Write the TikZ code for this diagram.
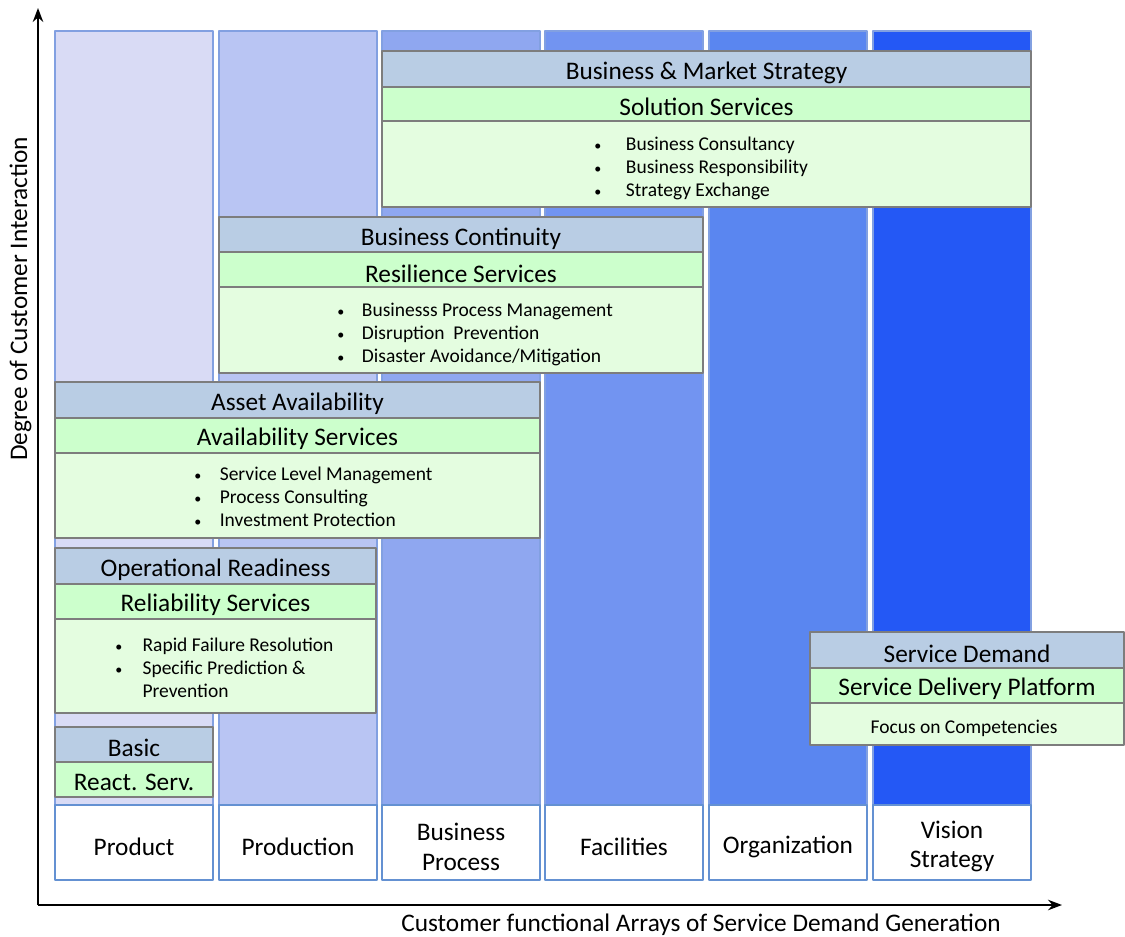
\documentclass[tikz,border=0pt]{standalone}
\usepackage{fontspec}
\setmainfont{Carlito}
\usetikzlibrary{arrows.meta}
\definecolor{colA}{RGB}{217,219,245}
\definecolor{colB}{RGB}{185,197,243}
\definecolor{colC}{RGB}{143,167,240}
\definecolor{colD}{RGB}{114,148,241}
\definecolor{colE}{RGB}{90,134,240}
\definecolor{colF}{RGB}{36,88,245}
\definecolor{colbd}{RGB}{130,160,225}
\definecolor{labbd}{RGB}{100,145,210}
\definecolor{hdfill}{RGB}{185,205,228}
\definecolor{ttlfill}{RGB}{204,255,204}
\definecolor{bdyfill}{RGB}{228,253,224}
\definecolor{boxbd}{RGB}{125,125,125}
\newcommand{\bul}{{\fontsize{8}{8}\selectfont\textbullet}}
\begin{document}
\begin{tikzpicture}[x=0.02cm,y=-0.02cm,>=Stealth,line join=round,
	font=\fontsize{14.4}{17}\selectfont,
	col/.style={draw=colbd,line width=0.6pt},
	lab/.style={draw=labbd,fill=white,line width=1.2pt},
	hd/.style={draw=boxbd,fill=hdfill,line width=0.6pt},
	ttl/.style={draw=boxbd,fill=ttlfill,line width=0.6pt},
	bdy/.style={draw=boxbd,fill=bdyfill,line width=0.6pt},
	items/.style={anchor=west,inner sep=0pt,font=\fontsize{11.1}{13.1}\selectfont}]
	\useasboundingbox (0,0) rectangle (1125,936);
	% columns and their labels
	\foreach \xl/\c/\n [count=\i] in {55/colA/Product, 219/colB/Production,
		382/colC/{Business\\Process}, 545/colD/Facilities,
		709/colE/Organization, 873/colF/{Vision\\Strategy}}{
		\draw[col,fill=\c] (\xl,31) rectangle (\xl+158,805);
		\draw[lab] (\xl,805) rectangle (\xl+158,880);
		\node[align=center] (c\i) at (\xl+79,846.5) {\n};
	}
	% axes
	\coordinate (O) at (38,905);
	\coordinate (ytop) at (38,8);
	\coordinate (xend) at (1062,905);
	\draw[->,line width=1.1pt] (O)--(ytop);
	\draw[->,line width=1.1pt] (O)--(xend);
	\node[rotate=90] (ylab) at (20.5,299) {Degree of Customer Interaction};
	\node (xlab) at (701,924.5) {Customer functional Arrays of Service Demand Generation};
	% Business & Market Strategy
	\draw[hd] (382,51) rectangle (1031,87);
	\node (bmsH) at (706.5,72.5) {Business \& Market Strategy};
	\draw[ttl] (382,87) rectangle (1031,121);
	\node (bmsT) at (706.5,107) {Solution Services};
	\draw[bdy] (382,121) rectangle (1031,207);
	\node[items] (bmsB) at (594,168.5) {\begin{tabular}{@{}p{18pt}@{}l@{}}
		\bul & Business Consultancy\\
		\bul & Business Responsibility\\
		\bul & Strategy Exchange\end{tabular}};
	% Business Continuity
	\draw[hd] (219,217) rectangle (703,252);
	\node (bcH) at (461,238.5) {Business Continuity};
	\draw[ttl] (219,252) rectangle (703,287);
	\node (bcT) at (461,273.5) {Resilience Services};
	\draw[bdy] (219,287) rectangle (703,373);
	\node[items] (bcB) at (337,334.5) {\begin{tabular}{@{}p{14pt}@{}l@{}}
		\bul & Businesss Process Management\\
		\bul & Disruption\ \ Prevention\\
		\bul & Disaster Avoidance/Mitigation\end{tabular}};
	% Asset Availability
	\draw[hd] (55,382) rectangle (540,418);
	\node (aaH) at (297.5,403.5) {Asset Availability};
	\draw[ttl] (55,418) rectangle (540,453);
	\node (aaT) at (297.5,438.5) {Availability Services};
	\draw[bdy] (55,453) rectangle (540,538);
	\node[items] (aaB) at (194,498.5) {\begin{tabular}{@{}p{14.5pt}@{}l@{}}
		\bul & Service Level Management\\
		\bul & Process Consulting\\
		\bul & Investment Protection\end{tabular}};
	% Operational Readiness
	\draw[hd] (55,548) rectangle (376,584);
	\node (orH) at (215.5,569.5) {Operational Readiness};
	\draw[ttl] (55,584) rectangle (376,619);
	\node (orT) at (215.5,604.5) {Reliability Services};
	\draw[bdy] (55,619) rectangle (376,713);
	\node[items] (orB) at (115,669.5) {\begin{tabular}{@{}p{15.5pt}@{}l@{}}
		\bul & Rapid Failure Resolution\\
		\bul & Specific Prediction \&\\
		& Prevention\end{tabular}};
	% Basic
	\draw[hd] (55,727) rectangle (213,762);
	\node (bsH) at (134,747.5) {Basic};
	\draw[ttl] (55,762) rectangle (213,797);
	\node (bsT) at (134,782.5) {React. Serv.};
	% Service Demand
	\draw[hd] (810,632) rectangle (1124,668);
	\node (sdH) at (967,653.5) {Service Demand};
	\draw[ttl] (810,668) rectangle (1124,703);
	\node (sdT) at (967,688.5) {Service Delivery Platform};
	\draw[bdy] (810,703) rectangle (1124,745);
	\node[font=\fontsize{11.1}{13}\selectfont] (sdB) at (964,728.5) {Focus on Competencies};
\end{tikzpicture}
\end{document}
